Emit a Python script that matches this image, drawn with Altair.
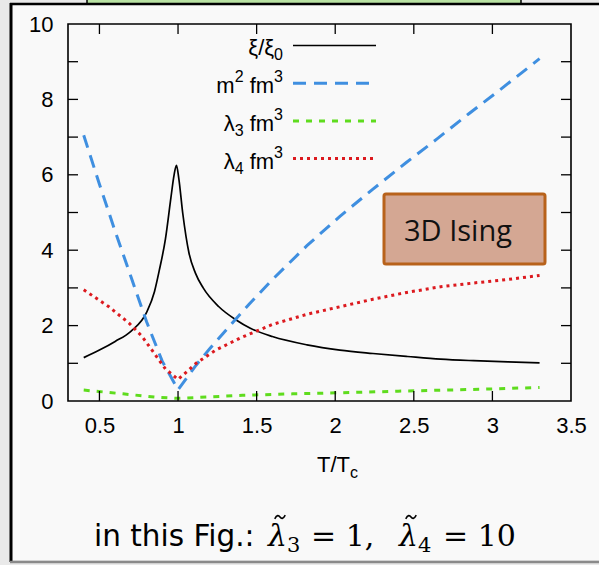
import altair as alt
import pandas as pd

# ---------------- data ----------------
xi_T = [0.4, 0.5, 0.6, 0.7, 0.8, 0.85, 0.88, 0.92, 0.955, 0.975, 0.99, 1.005, 1.03, 1.07,
        1.11, 1.16, 1.26, 1.37, 1.46, 1.6, 1.82, 2.03, 2.24, 2.46, 2.67, 2.88, 3.1, 3.3]
xi_V = [1.15, 1.35, 1.58, 1.85, 2.35, 2.9, 3.45, 4.3, 5.4, 6.0, 6.25, 5.9, 4.98, 3.92,
        3.4, 3.0, 2.5, 2.15, 1.93, 1.71, 1.49, 1.35, 1.26, 1.18, 1.11, 1.07, 1.04, 1.01]

m2_T = [0.4, 0.5, 0.6, 0.7, 0.8, 0.9, 1.0, 1.115, 1.2, 1.33, 1.455, 1.6, 1.82, 2.03, 2.24,
        2.45, 2.65, 2.85, 3.05, 3.3]
m2_V = [7.05, 5.75, 4.5, 3.3, 2.1, 1.05, 0.3, 0.95, 1.38, 2.0, 2.58, 3.22, 4.12, 4.9, 5.62,
        6.32, 6.96, 7.62, 8.26, 9.08]

l3_T = [0.4, 0.65, 0.86, 1.0, 1.2, 1.41, 1.73, 2.05, 2.4, 2.7, 3.0, 3.3]
l3_V = [0.29, 0.19, 0.1, 0.07, 0.11, 0.15, 0.19, 0.22, 0.26, 0.29, 0.32, 0.36]

l4_T = [0.4, 0.56, 0.69, 0.77, 0.86, 0.92, 1.0, 1.115, 1.24, 1.4, 1.6, 1.82, 2.03, 2.24,
        2.455, 2.67, 2.88, 3.09, 3.3]
l4_V = [2.95, 2.5, 2.06, 1.72, 1.2, 0.85, 0.57, 1.0, 1.35, 1.68, 2.03, 2.3, 2.5, 2.7,
        2.88, 3.03, 3.13, 3.22, 3.33]

# legend labels as (text, role) pieces: role base / sup / sub
legend_pieces = [
    [("ξ/ξ", "base"), ("0", "sub")],
    [("m", "base"), ("2", "sup"), (" fm", "base"), ("3", "sup")],
    [("λ", "base"), ("3", "sub"), (" fm", "base"), ("3", "sup")],
    [("λ", "base"), ("4", "sub"), (" fm", "base"), ("3", "sup")],
]
x_label_values = [0.5, 1, 1.5, 2, 2.5, 3, 3.5]
x_tick_values = [0.5, 1, 1.5, 2, 2.5, 3]
y_label_values = [0, 2, 4, 6, 8, 10]
y_tick_values = [1, 2, 3, 4, 5, 6, 7, 8, 9]
box_label = "3D Ising"
caption_text = "in this Fig.:"
cap_lambda = "λ"
cap_sub = ["3", "4"]
cap_eq = ["= 1,", "= 10"]
x_title_main = "T/T"
x_title_sub = "c"

# ---------------- layout ----------------
W, H = 503, 377
PL, PT = 68, 24
FONT = "Liberation Sans"
TILDE = "M -1 0.35 C -0.6 -0.45 -0.25 -0.35 0 0 C 0.25 0.35 0.6 0.45 1 -0.35"

xs = alt.Scale(domain=[0.3, 3.5], nice=False, zero=False)
ys = alt.Scale(domain=[0, 10], nice=False, zero=False)
xaxis = alt.Axis(values=x_label_values, ticks=False, domain=False, grid=False, title=None,
                 labelFontSize=22, labelFont=FONT, labelColor="black", labelPadding=14,
                 labelFlush=False, labelOverlap=False, labelBound=False, format="~g", zindex=2)
yaxis = alt.Axis(values=y_label_values, ticks=False, domain=False, grid=False, title=None,
                 labelFontSize=22, labelFont=FONT, labelColor="black", labelPadding=15,
                 labelFlush=False, labelOverlap=False, labelBound=False, format="d", zindex=2)


def X(f="T"):
    return alt.X(f"{f}:Q", scale=xs, axis=xaxis)


def Y(f="V"):
    return alt.Y(f"{f}:Q", scale=ys, axis=yaxis)


one = pd.DataFrame({"d": [0]})
layers = []

# panel background and borders (decoration)
layers.append(alt.Chart(one).mark_rect(fill="#f9f9f9").encode(
    x=alt.value(10 - PL), x2=alt.value(640 - PL), y=alt.value(4 - PT), y2=alt.value(560 - PT)))
layers.append(alt.Chart(one).mark_rect(fill="#b9e2a3", stroke="black", strokeWidth=1.5).encode(
    x=alt.value(87 - PL), x2=alt.value(521 - PL), y=alt.value(-5 - PT), y2=alt.value(4 - PT)))
layers.append(alt.Chart(one).mark_rule(color="black", strokeWidth=3).encode(
    x=alt.value(11 - PL), y=alt.value(3 - PT), y2=alt.value(562 - PT)))
layers.append(alt.Chart(one).mark_rule(color="black", strokeWidth=2.5).encode(
    x=alt.value(10 - PL), x2=alt.value(640 - PL), y=alt.value(4 - PT)))
layers.append(alt.Chart(one).mark_rule(color="#8a8a8a", strokeWidth=2.5).encode(
    x=alt.value(10 - PL), x2=alt.value(640 - PL), y=alt.value(562 - PT)))

series = [
    (xi_T, xi_V, "black", None, 1.7, "monotone"),
    (m2_T, m2_V, "#3f8fe0", [13, 8], 3, "linear"),
    (l3_T, l3_V, "#5fdc1e", [6, 7], 3, "linear"),
    (l4_T, l4_V, "#dc1a1f", [3, 4], 3, "linear"),
]

for tt, vv, col, dash, sw, interp in series:
    df = pd.DataFrame({"T": tt, "V": vv})
    kw = dict(color=col, strokeWidth=sw, interpolate=interp, clip=True)
    if dash:
        kw["strokeDash"] = dash
    layers.append(alt.Chart(df).mark_line(**kw).encode(x=X(), y=Y()))

# inward ticks on all four sides
xt = pd.DataFrame({"T": x_tick_values})
yt = pd.DataFrame({"V": y_tick_values})
layers.append(alt.Chart(xt).mark_rule(color="black", strokeWidth=1.3).encode(
    x=X(), y=alt.value(H), y2=alt.value(H - 10)))
layers.append(alt.Chart(xt).mark_rule(color="black", strokeWidth=1.3).encode(
    x=X(), y=alt.value(0), y2=alt.value(10)))
layers.append(alt.Chart(yt).mark_rule(color="black", strokeWidth=1.3).encode(
    y=Y(), x=alt.value(0), x2=alt.value(10)))
layers.append(alt.Chart(yt).mark_rule(color="black", strokeWidth=1.3).encode(
    y=Y(), x=alt.value(W - 10), x2=alt.value(W)))

# legend (gnuplot style: label right-aligned, line sample to the right)
EM = {"m": 0.833, "f": 0.278, " ": 0.278, "/": 0.278, "ξ": 0.46, "λ": 0.5}
BASE, SCRIPT = 22, 16
ROLE = {"base": (BASE, 10), "sup": (SCRIPT, -1), "sub": (SCRIPT, 15)}


def text_w(s, size):
    return sum(EM.get(c, 0.556) for c in s) * size


leg_rows_y = [9.43 - k for k in range(4)]
for i, (tt, vv, col, dash, sw, interp) in enumerate(series):
    right = 283
    for txt, role in reversed(legend_pieces[i]):
        size, dy = ROLE[role]
        pdf = pd.DataFrame({"V": [leg_rows_y[i]], "t": [txt]})
        layers.append(alt.Chart(pdf).mark_text(align="right", baseline="alphabetic",
                                               fontSize=size, font=FONT, color="black",
                                               dy=dy).encode(
            x=alt.value(right - PL), y=Y(), text="t:N"))
        right -= text_w(txt, size)
    ldf = pd.DataFrame({"V": [leg_rows_y[i]]})
    kw = dict(color=col, strokeWidth=sw)
    if dash:
        kw["strokeDash"] = dash
    layers.append(alt.Chart(ldf).mark_rule(**kw).encode(
        x=alt.value(293 - PL), x2=alt.value(376 - PL), y=Y()))

# "3D Ising" box
layers.append(alt.Chart(one).mark_rect(fill="#d4a793", stroke="#b8621b", strokeWidth=3,
                                       cornerRadius=2).encode(
    x=alt.value(384 - PL), x2=alt.value(545 - PL), y=alt.value(194 - PT), y2=alt.value(264 - PT)))
bl = pd.DataFrame({"t": [box_label]})
layers.append(alt.Chart(bl).mark_text(fontSize=29, font="Open Sans", color="#111111",
                                      align="center", baseline="middle").encode(
    x=alt.value(458 - PL), y=alt.value(232 - PT), text="t:N"))

# x-axis title T/T_c
t1 = pd.DataFrame({"t": [x_title_main]})
t2 = pd.DataFrame({"t": [x_title_sub]})
layers.append(alt.Chart(t1).mark_text(fontSize=22, font=FONT, color="black", align="right",
                                      baseline="alphabetic").encode(
    x=alt.value(350 - PL), y=alt.value(472 - PT), text="t:N"))
layers.append(alt.Chart(t2).mark_text(fontSize=16, font=FONT, color="black", align="left",
                                      baseline="alphabetic").encode(
    x=alt.value(350 - PL), y=alt.value(478 - PT), text="t:N"))

# caption
BL = 546 - PT
c1 = pd.DataFrame({"t": [caption_text]})
layers.append(alt.Chart(c1).mark_text(fontSize=29.5, font="DejaVu Sans", color="black",
                                      align="left", baseline="alphabetic").encode(
    x=alt.value(94 - PL), y=alt.value(BL), text="t:N"))
for k, (lx, sx, ex) in enumerate([(268, 287, 311), (399, 418, 443)]):
    layers.append(alt.Chart(pd.DataFrame({"t": [cap_lambda]})).mark_text(
        fontSize=30, font="DejaVu Serif", fontStyle="italic", color="black",
        align="left", baseline="alphabetic").encode(
        x=alt.value(lx - PL), y=alt.value(BL), text="t:N"))
    # tilde accent drawn as a small stroked path above the lambda
    layers.append(alt.Chart(one).mark_point(
        shape=TILDE, filled=False, stroke="black", strokeWidth=1.6, size=110, opacity=1).encode(
        x=alt.value(lx + 12 - PL), y=alt.value(BL - 29)))
    layers.append(alt.Chart(pd.DataFrame({"t": [cap_sub[k]]})).mark_text(
        fontSize=21, font="DejaVu Serif", color="black",
        align="left", baseline="alphabetic").encode(
        x=alt.value(sx - PL), y=alt.value(BL + 6), text="t:N"))
    layers.append(alt.Chart(pd.DataFrame({"t": [cap_eq[k]]})).mark_text(
        fontSize=30, font="DejaVu Serif", color="black",
        align="left", baseline="alphabetic").encode(
        x=alt.value(ex - PL), y=alt.value(BL), text="t:N"))

# plot frame on top
layers.append(alt.Chart(one).mark_rect(fill=None, stroke="black", strokeWidth=1.6).encode(
    x=alt.value(0), x2=alt.value(W), y=alt.value(0), y2=alt.value(H)))

chart = alt.layer(*layers).properties(
    width=W, height=H,
    autosize=alt.AutoSizeParams(type="none"),
    padding={"left": PL, "top": PT, "right": 599 - PL - W, "bottom": 565 - PT - H},
    background="#e9e9e9",
).configure_view(stroke=None)

chart.save("out.html", embed_options={"renderer": "svg", "actions": False})
